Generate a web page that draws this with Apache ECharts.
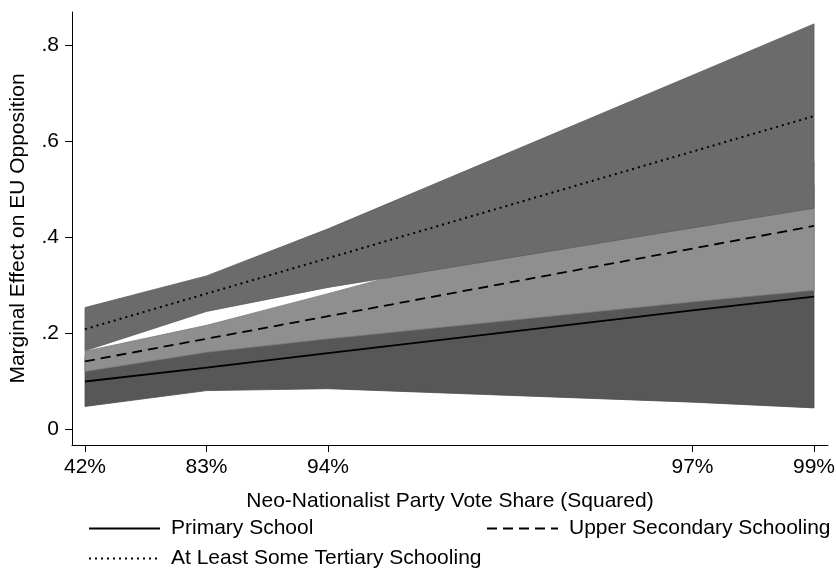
<!DOCTYPE html>
<html>
<head>
<meta charset="utf-8">
<script src="https://cdn.jsdelivr.net/npm/echarts@6/dist/echarts.min.js"></script>
<style>
  html, body { margin: 0; padding: 0; background: #fff; }
  #chart { width: 836px; height: 576px; }
</style>
</head>
<body>
<div id="chart"></div>
<script>
// Positions of the evaluation points on the horizontal scale, and their labels
const xPos = [0, 1, 2, 5, 6];
const xTickLabels = ['42%', '83%', '94%', '97%', '99%'];
const yTicks = [0, 0.2, 0.4, 0.6, 0.8];

// Marginal effects with 95% confidence bounds, by schooling level
const primary     = [0.099, 0.128, 0.158, 0.247, 0.276];
const primaryLo   = [0.047, 0.080, 0.084, 0.056, 0.044];
const primaryHi   = [0.151, 0.176, 0.232, 0.438, 0.508];

const secondary   = [0.141, 0.188, 0.235, 0.376, 0.423];
const secondaryLo = [0.120, 0.160, 0.188, 0.265, 0.289];
const secondaryHi = [0.162, 0.216, 0.282, 0.487, 0.557];

const tertiary    = [0.208, 0.282, 0.356, 0.578, 0.652];
const tertiaryLo  = [0.163, 0.245, 0.295, 0.419, 0.460];
const tertiaryHi  = [0.253, 0.319, 0.417, 0.737, 0.844];

const FONT = 'Liberation Sans, Arial, sans-serif';
const FS = 21;

function pairs(ys) { return xPos.map((x, i) => [x, ys[i]]); }

// A confidence band drawn as one filled polygon through the axis scales
function band(name, lo, hi, color, edge) {
  return {
    type: 'custom', name: name, silent: true, animation: false,
    data: xPos.map((x, i) => [x, lo[i], hi[i]]),
    encode: { x: 0, y: [1, 2] },
    renderItem: function (params, api) {
      if (params.dataIndex !== 0) return null;
      const upper = xPos.map((x, i) => api.coord([x, hi[i]]));
      const lower = xPos.map((x, i) => api.coord([x, lo[i]])).reverse();
      return {
        type: 'polygon',
        shape: { points: upper.concat(lower) },
        style: { fill: color, stroke: edge, lineWidth: 0.8 }
      };
    }
  };
}

function effectLine(name, ys, type, width) {
  return {
    type: 'line', name: name, data: pairs(ys), symbol: 'none',
    showSymbol: false, animation: false, z: 5,
    itemStyle: { color: '#000' },
    lineStyle: { color: '#000', width: width, type: type }
  };
}

const chart = echarts.init(document.getElementById('chart'));
chart.setOption({
  backgroundColor: '#fff',
  grid: { left: 72, right: 8, top: 12, bottom: 131, containLabel: false, outerBoundsMode: 'none' },
  xAxis: {
    type: 'value', min: -0.107, max: 6.115,
    name: 'Neo-Nationalist Party Vote Share (Squared)',
    nameLocation: 'middle', nameGap: 46,
    nameTextStyle: { fontFamily: FONT, fontSize: FS, color: '#000', verticalAlign: 'top' },
    axisLine: { show: true, onZero: false, lineStyle: { color: '#000', width: 1 } },
    axisTick: { show: true, length: 7, customValues: xPos, lineStyle: { color: '#000' } },
    axisLabel: {
      customValues: xPos, margin: 12,
      fontFamily: FONT, fontSize: FS, color: '#000',
      formatter: v => xTickLabels[xPos.indexOf(v)]
    },
    splitLine: { show: false }
  },
  yAxis: {
    type: 'value', min: -0.0333, max: 0.8688,
    name: 'Marginal Effect on EU Opposition',
    nameLocation: 'middle', nameGap: 43, nameRotate: 90,
    nameTextStyle: { fontFamily: FONT, fontSize: FS, color: '#000' },
    axisLine: { show: true, onZero: false, lineStyle: { color: '#000', width: 1 } },
    axisTick: { show: true, length: 7, customValues: yTicks, lineStyle: { color: '#000' } },
    axisLabel: {
      customValues: yTicks, margin: 13,
      fontFamily: FONT, fontSize: FS, color: '#000',
      formatter: v => (Math.abs(v) < 1e-9 ? '0' : String(+v.toFixed(1)).replace(/^0\./, '.'))
    },
    splitLine: { show: false }
  },
  legend: [
    { data: ['Primary School'], left: 88, top: 518 },
    { data: ['Upper Secondary Schooling'], left: 486, top: 518 },
    { data: ['At Least Some Tertiary Schooling'], left: 88, top: 548 }
  ].map(l => Object.assign(l, {
    orient: 'horizontal', itemWidth: 71, itemHeight: 14, padding: 0,
    selectedMode: false,
    itemStyle: { opacity: 0 },
    textStyle: { fontFamily: FONT, fontSize: FS, color: '#000', padding: [0, 0, 0, 6] }
  })),
  series: [
    band('primaryBand', primaryLo, primaryHi, '#575757', '#4e4e4e'),
    band('secondaryBand', secondaryLo, secondaryHi, '#8f8f8f', '#7c7c7c'),
    band('tertiaryBand', tertiaryLo, tertiaryHi, '#6b6b6b', '#5e5e5e'),
    effectLine('Primary School', primary, 'solid', 1.8),
    effectLine('Upper Secondary Schooling', secondary, [10, 6], 1.8),
    effectLine('At Least Some Tertiary Schooling', tertiary, [2, 4], 2)
  ]
});
</script>
</body>
</html>
